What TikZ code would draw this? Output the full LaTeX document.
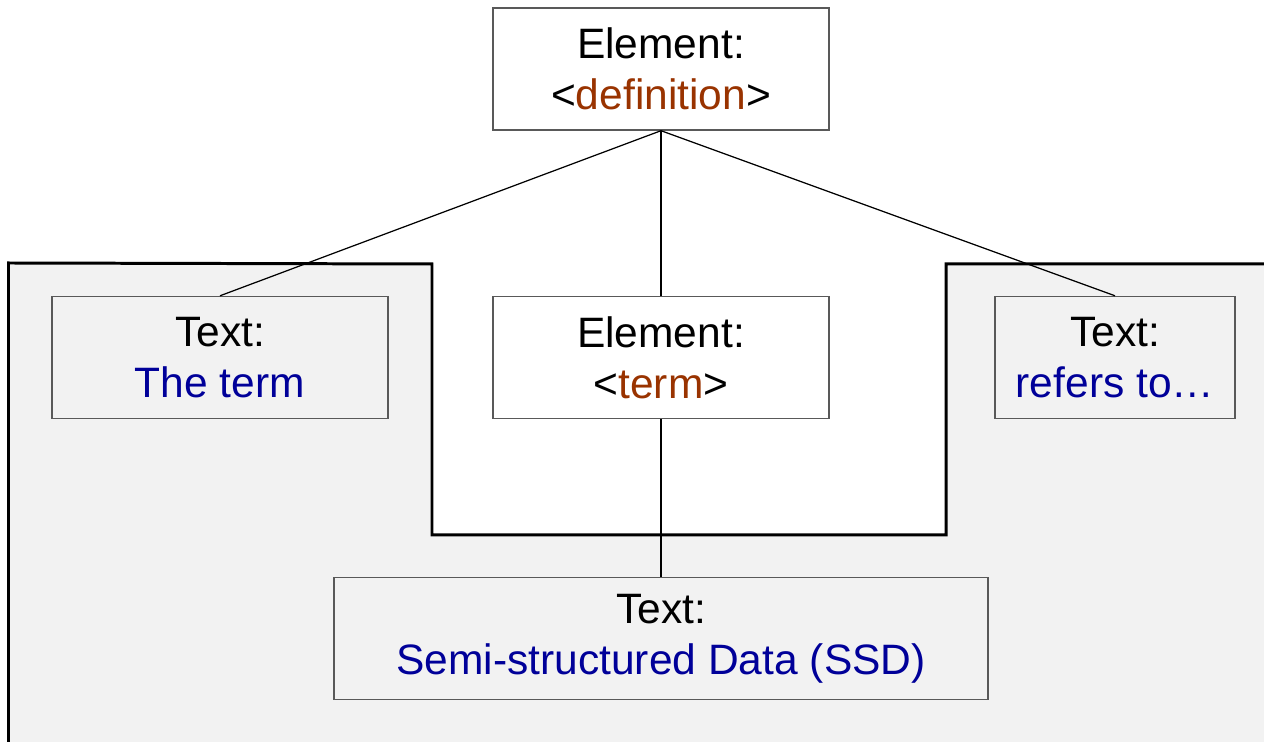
\documentclass[tikz,border=0pt]{standalone}
\usepackage{fontspec}
\setmainfont{Liberation Sans}
\usetikzlibrary{positioning}
\definecolor{tagBrown}{HTML}{993300}
\definecolor{txtBlue}{HTML}{000099}
\definecolor{regionBg}{HTML}{F2F2F2}
\tikzset{
  xbox/.style={draw=black!65, fill=#1, line width=0.4pt,
    minimum width=3.36cm, minimum height=1.22cm, inner sep=0pt,
    align=center, font=\fontsize{12.1}{14.5}\selectfont},
  link/.style={draw=black, line width=0.35pt},
  region/.style={draw=black, fill=regionBg, line width=0.85pt}
}
\newcommand{\tagname}[1]{<\textcolor{tagBrown}{#1}>}
\newcommand{\txtval}[1]{\textcolor{txtBlue}{#1}}

\begin{document}
\begin{tikzpicture}[x=1cm,y=1cm]
  \useasboundingbox (0,0) rectangle (12.64,7.42);
  \clip (0,0) rectangle (12.64,7.42);
  % shaded area with the notch around the element
  \draw[region] (0.085,-0.5) -- (0.085,4.79) -- (4.32,4.78) -- (4.32,2.07)
    -- (9.46,2.07) -- (9.46,4.78) -- (13.0,4.78) -- (13.0,-0.5) -- cycle;

  \node[xbox=white] (def) at (6.61,6.73) {Element:\\\tagname{definition}};
  \node[xbox=regionBg] (termtxt) at (2.20,3.845) {Text:\\\txtval{The term}};
  \node[xbox=white] (termel) at (6.61,3.845) {Element:\\\tagname{term}};
  \node[xbox=regionBg, minimum width=2.40cm] (refers) at (11.15,3.845) {Text:\\\txtval{refers to…}};
  \node[xbox=regionBg, minimum width=6.54cm] (ssd) at (6.61,1.035) {Text:\\\txtval{Semi-structured Data (SSD)}};

  \draw[link] (def.south) -- (termtxt.north);
  \draw[link] (def.south) -- (termel.north);
  \draw[link] (def.south) -- (refers.north);
  \draw[link] (termel.south) -- (ssd.north);
\end{tikzpicture}
\end{document}
